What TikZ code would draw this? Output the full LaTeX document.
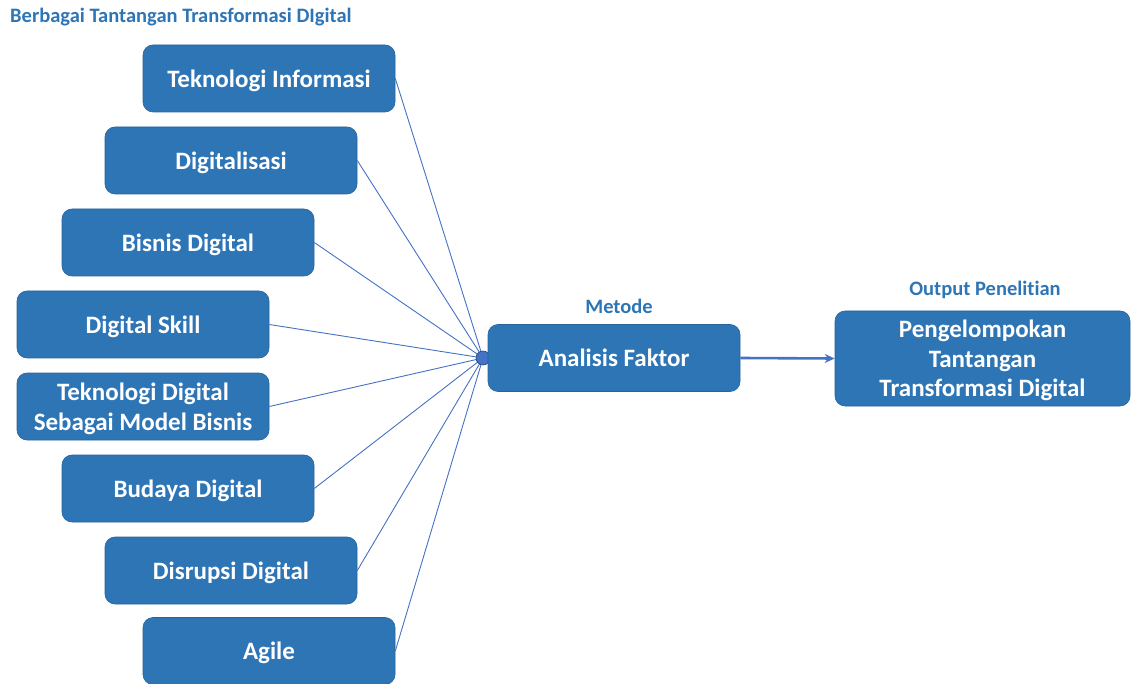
\documentclass[tikz,border=0pt]{standalone}
\usepackage{fontspec}
\setmainfont{Carlito}[Ligatures=NoCommon]
\usetikzlibrary{arrows.meta}
\definecolor{boxblue}{HTML}{2E75B6}
\definecolor{lineblue}{HTML}{4472C4}
\definecolor{labelblue}{HTML}{2E75B6}
\tikzset{
  factor/.style={draw=boxblue!85!black, line width=0.6pt, fill=boxblue, rounded corners=10pt,
    minimum width=252pt, minimum height=67pt, inner sep=2pt, text=white, text depth=0pt,
    font=\fontsize{25}{29.5}\selectfont\bfseries, align=center},
  headlabel/.style={text=labelblue, font=\fontsize{20.5}{24}\selectfont\bfseries, inner sep=0pt},
  link/.style={draw=lineblue, line width=0.9pt},
}
\begin{document}
\begin{tikzpicture}[x=1pt,y=-1pt]
\useasboundingbox (0,0) rectangle (1132,684);
\node[headlabel, anchor=west] (title) at (10,17) {Berbagai Tantangan Transformasi DIgital};
\coordinate (hub) at (483,358);
\node[factor] (f1) at (269,78.5) {Teknologi Informasi};
\node[factor] (f2) at (231,160.5) {Digitalisasi};
\node[factor] (f3) at (188,242.5) {Bisnis Digital};
\node[factor] (f4) at (143,324.5) {Digital Skill};
\node[factor] (f5) at (143,406.5) {Teknologi Digital\\Sebagai Model Bisnis};
\node[factor] (f6) at (188,488.5) {Budaya Digital};
\node[factor] (f7) at (231,570.5) {Disrupsi Digital};
\node[factor] (f8) at (269,651) {Agile};
\foreach \i in {1,...,8} { \draw[link] (f\i.east) -- (hub); }
\fill[lineblue, draw=lineblue!60!black, line width=0.6pt] (hub) circle (7);
\node[factor] (af) at (614,358) {Analisis Faktor};
\node[headlabel] (metode) at (619,306) {Metode};
\node[factor, minimum width=295pt, minimum height=95pt] (out) at (982.5,358.5)
  {Pengelompokan\\Tantangan\\Transformasi Digital};
\node[headlabel] (outlbl) at (985,290) {Output Penelitian};
\draw[lineblue, line width=2.6pt, -{Stealth[length=10pt,width=9pt]}] (af.east) -- (out.west);
\end{tikzpicture}
\end{document}
